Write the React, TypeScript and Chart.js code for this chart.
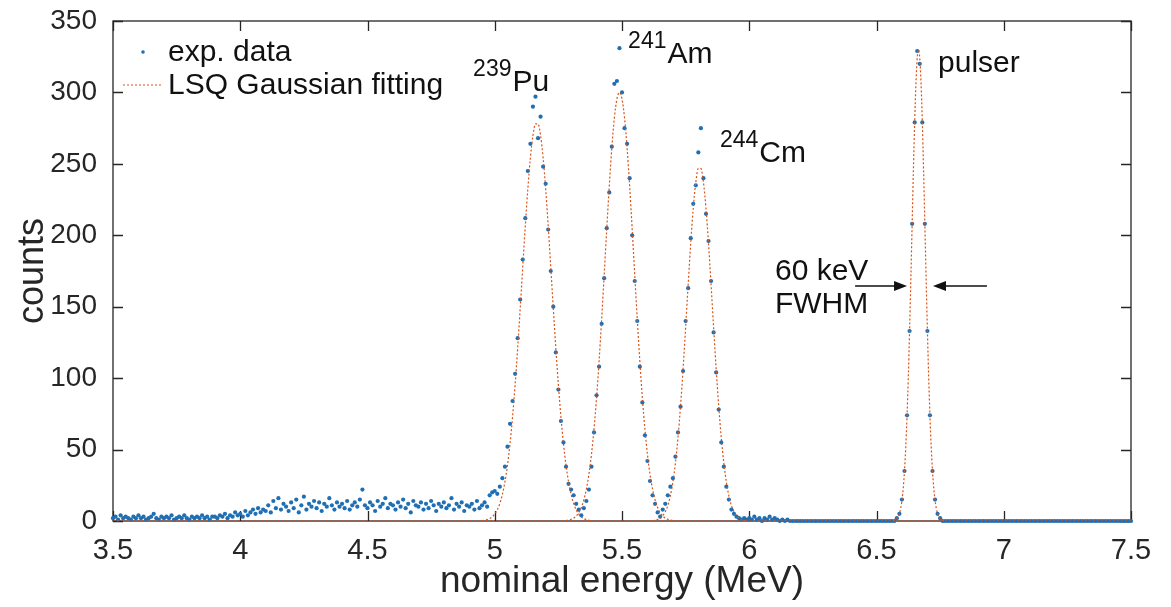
import React, { useEffect, useRef } from "react";
import { Chart, registerables } from "chart.js";

Chart.register(...registerables);

// ---------- data (counts per 0.01 MeV bin) ----------
const lowStart = 3.5; // first bin of countsLow (MeV)
const countsLow = [
  2, 3, 1, 4, 2, 3, 2, 1, 3, 2,
  4, 2, 3, 1, 2, 3, 5, 2, 1, 3,
  2, 3, 2, 4, 1, 2, 3, 2, 4, 2,
  1, 3, 2, 3, 2, 4, 2, 3, 1, 3,
  3, 2, 4, 3, 5, 2, 4, 3, 6, 4,
  5, 3, 7, 4, 6, 8, 5, 9, 6, 8,
  7, 11, 6, 14, 9, 16, 8, 12, 10, 7,
  13, 9, 15, 6, 11, 17, 8, 12, 10, 14,
  9, 13, 7, 12, 10, 16, 11, 8, 13, 10,
  12, 9, 14, 8, 11, 13, 10, 15, 22, 11,
  9, 13, 11, 7, 14, 10, 12, 16, 9, 12,
  11, 8, 13, 10, 15, 9, 12, 6, 14, 11,
  10, 13, 8, 12, 9, 14, 11, 7, 12, 10,
  13, 9, 11, 16, 8, 12, 10, 13, 7, 11,
  10, 12, 8, 14, 9, 11, 13, 10, 18, 20,
];
const peakStart = 5.0;
const countsPeaks = [
  21, 19, 24, 30, 38, 52, 68, 84, 103, 128,
  155, 183, 212, 245, 264, 290, 297, 268, 283, 248,
  236, 204, 175, 150, 118, 92, 70, 55, 38, 26,
  22, 18, 12, 8, 4, 9, 14, 22, 38, 62,
  88, 108, 138, 170, 205, 230, 262, 306, 308, 331,
  300, 275, 264, 240, 200, 168, 140, 108, 83, 60,
  42, 28, 18, 12, 6, 3, 8, 12, 18, 24,
  30, 45, 62, 80, 105, 140, 163, 198, 222, 235,
  258, 275, 240, 215, 196, 168, 132, 104, 78, 55,
  38, 24, 15, 8, 5, 3, 2, 1, 2, 1,
];
const highStart = 6.0;
const countsHigh = [
  2, 1, 3, 1, 2, 0, 2, 1, 3, 1,
  2, 1, 0, 1, 0, 1, 0, 0, 0, 0,
  0, 0, 0, 0, 0, 0, 0, 0, 0, 0,
  0, 0, 0, 0, 0, 0, 0, 0, 0, 0,
  0, 0, 0, 0, 0, 0, 0, 0, 0, 0,
  0, 0, 0, 0, 0, 0, 0, 0, 2, 5,
  15, 35, 74, 133, 208, 279, 329, 320, 279, 208,
  133, 74, 35, 15, 5, 2, 0, 0, 0, 0,
  0, 0, 0, 0, 0, 0, 0, 0, 0, 0,
  0, 0, 0, 0, 0, 0, 0, 0, 0, 0,
  0, 0, 0, 0, 0, 0, 0, 0, 0, 0,
  0, 0, 0, 0, 0, 0, 0, 0, 0, 0,
  0, 0, 0, 0, 0, 0, 0, 0, 0, 0,
  0, 0, 0, 0, 0, 0, 0, 0, 0, 0,
  0, 0, 0, 0, 0, 0, 0, 0, 0, 0,
  0,
];
const binWidth = 0.01;

// ---------- LSQ Gaussian fit curves ----------
const fitStep = 0.01;
const fitPuStart = 4.95;
const fitPu = [
  0.3, 0.5, 1.0, 1.7, 2.9, 4.9, 7.8, 12.3, 18.6, 27.4, 39.0, 54.2, 73.0, 95.3, 120.9, 148.9,
  178.0, 206.5, 232.6, 254.3, 269.8, 278.0, 278.0, 269.8, 254.3, 232.6, 206.5, 178.0, 148.9,
  120.9, 95.3, 73.0, 54.2, 39.0, 27.4, 18.6, 12.3, 7.8, 4.9, 2.9, 1.7, 1.0, 0.5, 0.3,
];
const fitAmStart = 5.28;
const fitAm = [
  0.3, 0.6, 1.2, 2.0, 3.5, 5.8, 9.4, 14.7, 22.3, 32.7, 46.6, 64.4, 86.2, 112.0, 141.2, 172.4,
  204.2, 234.5, 261.2, 282.1, 295.4, 300, 295.4, 282.1, 261.2, 234.5, 204.2, 172.4, 141.2,
  112.0, 86.2, 64.4, 46.6, 32.7, 22.3, 14.7, 9.4, 5.8, 3.5, 2.0, 1.2, 0.6, 0.3,
];
const fitCmStart = 5.62;
const fitCm = [
  0.3, 0.5, 1.1, 2.0, 3.7, 6.5, 10.9, 17.6, 27.3, 40.8, 58.5, 80.5, 106.5, 135.4, 165.4,
  194.1, 218.9, 237.1, 246.8, 246.8, 237.1, 218.9, 194.1, 165.4, 135.4, 106.5, 80.5, 58.5,
  40.8, 27.3, 17.6, 10.9, 6.5, 3.7, 2.0, 1.1, 0.5, 0.3,
];
const fitPulserStart = 6.565;
const fitPulserStep = 0.005;
const fitPulser = [
  0.2, 0.4, 0.8, 1.6, 2.9, 5.2, 8.8, 14.5, 23.0, 35.2, 51.9, 73.8, 101.0, 133.4, 169.6, 207.8,
  245.5, 279.4, 306.5, 324.0, 330, 324.0, 306.5, 279.4, 245.5, 207.8, 169.6, 133.4, 101.0,
  73.8, 51.9, 35.2, 23.0, 14.5, 8.8, 5.2, 2.9, 1.6, 0.8, 0.4, 0.2,
];
const fitBaseEnergy = [3.5, 7.5];
const fitBaseCounts = [0, 0];

// ---------- axes & text ----------
const xTicks = [3.5, 4, 4.5, 5, 5.5, 6, 6.5, 7, 7.5];
const yTicks = [0, 50, 100, 150, 200, 250, 300, 350];
const xLabel = "nominal energy (MeV)";
const yLabel = "counts";
const legendLabels = ["exp. data", "LSQ Gaussian fitting"];
const isotopeLabels = [
  { mass: "239", symbol: "Pu", energy: 4.915, counts: 301 },
  { mass: "241", symbol: "Am", energy: 5.524, counts: 320.6 },
  { mass: "244", symbol: "Cm", energy: 5.885, counts: 251.3 },
];
const textLabels = [
  { text: "pulser", energy: 6.742, counts: 314.3 },
  { text: "60 keV", energy: 6.101, counts: 168.7 },
  { text: "FWHM", energy: 6.101, counts: 145.6 },
];
const arrows = [
  { from: 6.416, to: 6.62, counts: 164.5 },
  { from: 6.934, to: 6.722, counts: 164.5 },
];

const FONT = "'Liberation Sans', Arial, Helvetica, sans-serif";
const AXIS_COLOR = "#262626";
const DATA_COLOR = "#1f6fb5";
const FIT_COLOR = "#D95319";

const toPoints = (start: number, step: number, values: number[]) =>
  values.map((v, i) => ({ x: +(start + i * step).toFixed(4), y: v }));

const framePlugin = {
  id: "frame",
  beforeDatasetsDraw(chart: any) {
    const { ctx, chartArea, scales } = chart;
    const { left, right, top, bottom } = chartArea;
    ctx.save();
    ctx.strokeStyle = AXIS_COLOR;
    ctx.lineWidth = 1.3;
    ctx.strokeRect(left, top, right - left, bottom - top);
    const tl = 10;
    ctx.beginPath();
    for (const v of xTicks) {
      const px = Math.round(scales.x.getPixelForValue(v)) + 0.5;
      ctx.moveTo(px, bottom);
      ctx.lineTo(px, bottom - tl);
      ctx.moveTo(px, top);
      ctx.lineTo(px, top + tl);
    }
    for (const v of yTicks) {
      const py = Math.round(scales.y.getPixelForValue(v)) + 0.5;
      ctx.moveTo(left, py);
      ctx.lineTo(left + tl, py);
      ctx.moveTo(right, py);
      ctx.lineTo(right - tl, py);
    }
    ctx.stroke();
    ctx.restore();
  },
};

const annotationPlugin = {
  id: "annot",
  afterDraw(chart: any) {
    const { ctx, chartArea, scales } = chart;
    const X = (v: number) => scales.x.getPixelForValue(v);
    const Y = (v: number) => scales.y.getPixelForValue(v);
    ctx.save();
    ctx.fillStyle = "#111";
    ctx.textAlign = "left";
    ctx.textBaseline = "alphabetic";
    for (const l of isotopeLabels) {
      const px = X(l.energy);
      const py = Y(l.counts);
      ctx.font = `23px ${FONT}`;
      ctx.fillText(l.mass, px, py - 15);
      const w = ctx.measureText(l.mass).width;
      ctx.font = `30px ${FONT}`;
      ctx.fillText(l.symbol, px + w + 1, py);
    }
    ctx.font = `30px ${FONT}`;
    for (const t of textLabels) {
      ctx.fillText(t.text, X(t.energy), Y(t.counts));
    }
    // arrows
    ctx.strokeStyle = "#111";
    ctx.lineWidth = 1.6;
    for (const a of arrows) {
      const x0 = X(a.from);
      const x1 = X(a.to);
      const y = Y(a.counts);
      const dir = Math.sign(x1 - x0);
      ctx.beginPath();
      ctx.moveTo(x0, y);
      ctx.lineTo(x1 - dir * 8, y);
      ctx.stroke();
      ctx.beginPath();
      ctx.moveTo(x1, y);
      ctx.lineTo(x1 - dir * 13, y - 5);
      ctx.lineTo(x1 - dir * 13, y + 5);
      ctx.closePath();
      ctx.fill();
    }
    // legend
    const lx = chartArea.left;
    const ly = chartArea.top;
    ctx.fillStyle = DATA_COLOR;
    ctx.beginPath();
    ctx.arc(lx + 30, ly + 31, 1.8, 0, Math.PI * 2);
    ctx.fill();
    ctx.strokeStyle = FIT_COLOR;
    ctx.lineWidth = 1.2;
    ctx.setLineDash([2, 2]);
    ctx.beginPath();
    ctx.moveTo(lx + 10, ly + 64);
    ctx.lineTo(lx + 50, ly + 64);
    ctx.stroke();
    ctx.setLineDash([]);
    ctx.fillStyle = "#111";
    ctx.font = `30px ${FONT}`;
    ctx.fillText(legendLabels[0], lx + 55, ly + 40);
    ctx.fillText(legendLabels[1], lx + 55, ly + 73);
    ctx.restore();
  },
};

export default function App() {
  const canvasRef = useRef<HTMLCanvasElement | null>(null);

  useEffect(() => {
    const canvas = canvasRef.current;
    if (!canvas) return;

    const dataPoints = [
      ...toPoints(lowStart, binWidth, countsLow),
      ...toPoints(peakStart, binWidth, countsPeaks),
      ...toPoints(highStart, binWidth, countsHigh),
    ];

    const fitStyle = {
      showLine: true,
      pointRadius: 0,
      borderColor: FIT_COLOR,
      backgroundColor: FIT_COLOR,
      borderWidth: 1.2,
      borderDash: [2, 2],
      cubicInterpolationMode: "monotone" as const,
      order: 0,
    };

    const chart = new Chart(canvas, {
      type: "scatter",
      data: {
        datasets: [
          {
            label: legendLabels[1],
            data: fitBaseEnergy.map((e, i) => ({ x: e, y: fitBaseCounts[i] })),
            ...fitStyle,
          },
          { label: legendLabels[1], data: toPoints(fitPuStart, fitStep, fitPu), ...fitStyle },
          { label: legendLabels[1], data: toPoints(fitAmStart, fitStep, fitAm), ...fitStyle },
          { label: legendLabels[1], data: toPoints(fitCmStart, fitStep, fitCm), ...fitStyle },
          {
            label: legendLabels[1],
            data: toPoints(fitPulserStart, fitPulserStep, fitPulser),
            ...fitStyle,
          },
          {
            label: legendLabels[0],
            data: dataPoints,
            showLine: false,
            pointRadius: 2.1,
            pointBorderWidth: 0,
            backgroundColor: DATA_COLOR,
            borderColor: DATA_COLOR,
            clip: false as any,
            order: 1,
          },
        ],
      },
      options: {
        responsive: false,
        animation: false,
        devicePixelRatio: 1,
        layout: { padding: { left: 0, top: 21, right: 40, bottom: 0 } },
        plugins: {
          legend: { display: false },
          tooltip: { enabled: false },
        },
        scales: {
          x: {
            type: "linear",
            min: 3.5,
            max: 7.5,
            afterBuildTicks: (s: any) => {
              s.ticks = xTicks.map((v) => ({ value: v }));
            },
            afterFit: (s: any) => {
              s.height = 86;
              s.paddingLeft = 0;
              s.paddingRight = 0;
            },
            grid: { display: false, drawTicks: false },
            border: { display: false },
            ticks: {
              color: AXIS_COLOR,
              font: { family: FONT, size: 29 },
              padding: 13,
              maxRotation: 0,
              autoSkip: false,
              callback: (v: any) => String(v),
            },
            title: {
              display: true,
              text: xLabel,
              color: AXIS_COLOR,
              font: { family: FONT, size: 37 },
              padding: { top: 0, bottom: 3 },
            },
          },
          y: {
            type: "linear",
            min: 0,
            max: 350,
            afterBuildTicks: (s: any) => {
              s.ticks = yTicks.map((v) => ({ value: v }));
            },
            afterFit: (s: any) => {
              s.width = 113;
              s.paddingTop = 0;
              s.paddingBottom = 0;
            },
            grid: { display: false, drawTicks: false },
            border: { display: false },
            ticks: {
              color: AXIS_COLOR,
              font: { family: FONT, size: 28 },
              padding: 16,
              autoSkip: false,
              callback: (v: any) => String(v),
            },
            title: {
              display: true,
              text: yLabel,
              color: AXIS_COLOR,
              font: { family: FONT, size: 36 },
              padding: { top: 11, bottom: 0 },
            },
          },
        },
      },
      plugins: [framePlugin, annotationPlugin],
    });

    return () => chart.destroy();
  }, []);

  return (
    <div
      style={{
        position: "fixed",
        left: 0,
        top: 0,
        width: 1171,
        height: 607,
        background: "#fff",
      }}
    >
      <canvas ref={canvasRef} width={1171} height={607} style={{ width: 1171, height: 607 }} />
    </div>
  );
}
